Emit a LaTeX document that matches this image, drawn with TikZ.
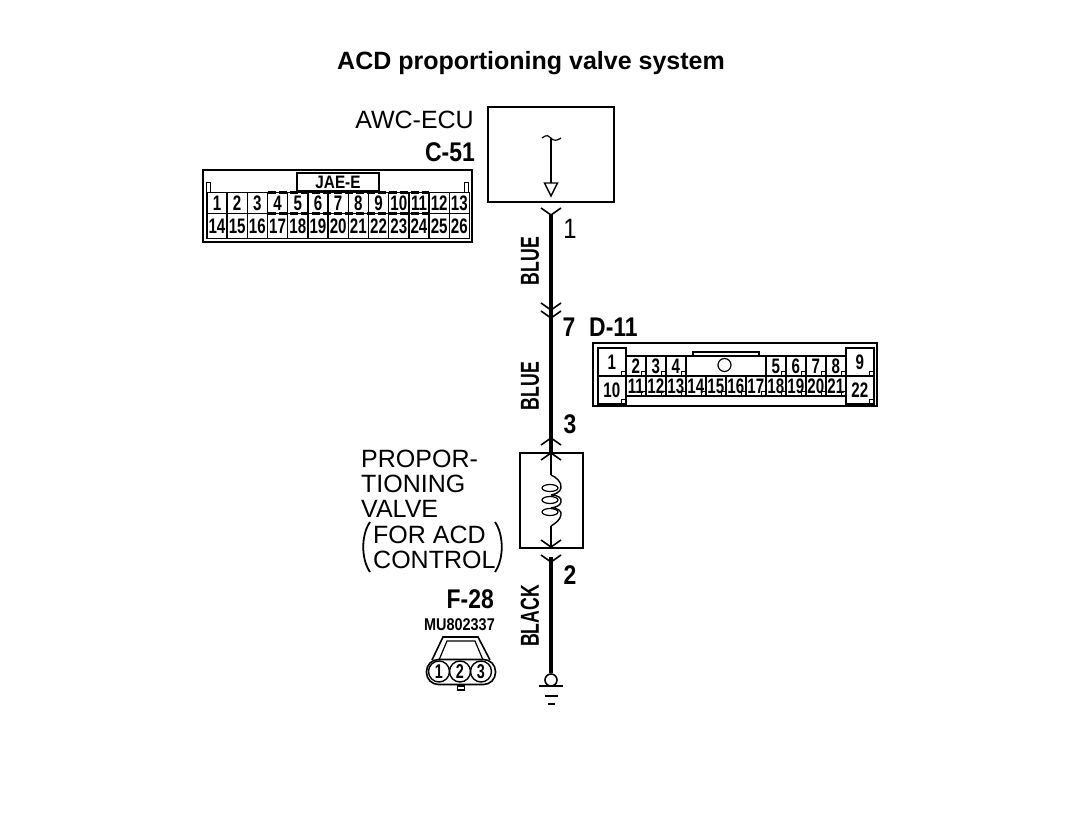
\documentclass[tikz,border=0pt]{standalone}
\usepackage{fontspec}
\setmainfont{Liberation Sans}
\newfontfamily\narrowfont[FakeStretch=0.68]{Liberation Sans}
\newfontfamily\namefont[FakeStretch=0.85]{Liberation Sans}
\newfontfamily\cellfont[FakeStretch=0.72]{Liberation Sans}
\usetikzlibrary{calc, matrix, positioning, shapes.geometric}
\tikzset{
  % wire styles
  wire/.style={
    line width=4pt
  },
  thinwire/.style={
    line width=1.6pt
  },
}
\tikzset{
  % plain labels
  plainlabel/.style={
    inner sep=0pt
    , font=\fontsize{25}{25}\selectfont
  },
  % narrow bold labels
  narrowlabel/.style={
    inner sep=0pt
    , font=\narrowfont\bfseries\fontsize{26}{26}\selectfont
  },
  % connector names and pin numbers
  namelabel/.style={
    inner sep=0pt
    , font=\namefont\bfseries\fontsize{27}{27}\selectfont
  },
}
\tikzset{
  % connector pin cell
  pincell/.style={
    draw
    , anchor=center
    , line width=1.4pt
    , inner sep=0pt
    , outer sep=0pt
    , minimum width=20.2pt
    , minimum height=23pt
    , font=\cellfont\bfseries\fontsize{21}{21}\selectfont
  },
  % pin cell with small square in its corner
  tabcell/.style={
    pincell
    , minimum width=20pt
    , minimum height=20pt
    , path picture={
        \draw[line width=1pt] ($(path picture bounding box.south east)+(-4,0)$) rectangle ++(4,-4);
      }
  },
  blankcell/.style={
    draw=none
    , minimum width=20pt
    , minimum height=20pt
    , path picture={}
  },
  bigcell/.style={
    tabcell
    , minimum width=28pt
    , minimum height=28pt
  },
  framebox/.style={
    draw
    , line width=2pt
    , inner sep=0pt
    , outer sep=0pt
  },
}
\begin{document}
\begin{tikzpicture}[x=1pt, y=-1pt]
  \useasboundingbox (0,0) rectangle (1072,816);

  \node[font=\bfseries\fontsize{25}{25}\selectfont, inner sep=0pt] (title) at (531,63) {ACD proportioning valve system};

  % ECU
  \node[framebox, minimum width=126pt, minimum height=95pt] (ecu) at (551,154.5) {};
  \node[plainlabel, anchor=east] (ecuname) at (474,120) {AWC-ECU};
  \node[namelabel, anchor=east] (c51name) at (475,152) {C-51};
  \coordinate (ecutop) at (551,138);
  \coordinate (ecuhead) at (551,183);
  \draw[thinwire] (ecutop) -- (ecuhead);
  \draw[line width=1.2pt] ($(ecutop)+(-9,0)$) .. controls ($(ecutop)+(-4,-4)$) and ($(ecutop)+(-2,-2)$) .. (ecutop) .. controls ($(ecutop)+(2,3)$) and ($(ecutop)+(6,3)$) .. ($(ecutop)+(10,0)$);
  \draw[line width=1.4pt, fill=white] ($(ecuhead)+(-6.5,0)$) -- ($(ecuhead)+(6.5,0)$) -- ($(ecuhead)+(0,13)$) -- cycle;

  % connector C-51
  \node[framebox, minimum width=269pt, minimum height=72pt] (c51) at (337.5,206) {};
  \node[framebox, line width=1.6pt, minimum width=82pt, minimum height=18pt, font=\namefont\bfseries\fontsize{18}{18}\selectfont] (jae) at (338,182) {JAE-E};
  \node[draw, line width=1pt, inner sep=0pt, minimum width=4pt, minimum height=10pt] (c51tabl) at (208,187) {};
  \node[draw, line width=1pt, inner sep=0pt, minimum width=4pt, minimum height=10pt] (c51tabr) at (466,187) {};
  \matrix (c51pins) [matrix of nodes
                    , nodes={pincell}
                    , row 1/.style={nodes={minimum height=21pt}}
                    , row 2/.style={nodes={minimum height=25pt}}
                    , column sep=-1.4pt
                    , row sep=-1.4pt
                    , inner sep=0pt
                    , anchor=north west
                    , ampersand replacement=\&
                    ] at (206,191.5)
    {
      1 \& 2 \& 3 \& 4 \& 5 \& 6 \& 7 \& 8 \& 9 \& 10 \& 11 \& 12 \& 13 \\
      14 \& 15 \& 16 \& 17 \& 18 \& 19 \& 20 \& 21 \& 22 \& 23 \& 24 \& 25 \& 26 \\
    };
  \draw[line width=3pt, dash pattern=on 8pt off 3pt] (c51pins-1-4.north west) -- (c51pins-1-11.north east);
  \draw[line width=3pt, dash pattern=on 8pt off 3pt] (c51pins-2-4.north west) -- (c51pins-2-11.north east);

  % connector D-11
  \node[framebox, minimum width=284pt, minimum height=63pt] (d11) at (734.5,374.5) {};
  \matrix (d11pins) [matrix of nodes
                    , nodes={tabcell}
                    , column sep=-1.4pt
                    , row sep=-1.4pt
                    , inner sep=0pt
                    , anchor=north west
                    , ampersand replacement=\&
                    ] at (625,355)
    {
      2 \& 3 \& 4 \& |[blankcell]| {} \& |[blankcell]| {} \& |[blankcell]| {} \& |[blankcell]| {} \& 5 \& 6 \& 7 \& 8 \\
      11 \& 12 \& 13 \& 14 \& 15 \& 16 \& 17 \& 18 \& 19 \& 20 \& 21 \\
    };
  \node[bigcell, anchor=south east] (d11one) at (d11pins-1-1.south west) {1};
  \node[bigcell, anchor=north east] (d11ten) at (d11pins-2-1.north west) {10};
  \node[bigcell, anchor=south west] (d11nine) at (d11pins-1-11.south east) {9};
  \node[bigcell, anchor=north west] (d11twentytwo) at (d11pins-2-11.north east) {22};
  \draw[line width=1.4pt] (d11pins-1-4.north west) -- (d11pins-1-7.north east);
  \draw[line width=1.4pt] ($(d11pins-1-4.north west)+(7,0)$) -- ($(d11pins-1-4.north west)+(7,-4)$) -- ($(d11pins-1-7.north east)+(-7,-4)$) -- ($(d11pins-1-7.north east)+(-7,0)$);
  \node[draw, circle, line width=1.2pt, inner sep=0pt, minimum size=13pt] (d11key) at (724.5,365) {};
  \node[namelabel, anchor=west] (d11name) at (589,327) {D-11};

  % main wire with its connector marks
  \coordinate (pinone) at (551,215);
  \coordinate (pinsevenup) at (551,310);
  \coordinate (pinsevendn) at (551,318);
  \coordinate (pinthree) at (551,438);
  \coordinate (valvetop) at (551,453);
  \coordinate (valvebot) at (551,547);
  \coordinate (pintwo) at (551,562);
  \node[draw, circle, line width=1.6pt, inner sep=0pt, minimum size=12pt] (earth) at (551,680) {};
  \draw[wire] (pinone) -- (valvetop);
  \draw[wire] ($(pintwo)+(0,-5)$) -- (earth.north);
  \draw[thinwire] ($(pinone)+(-10,-7)$) -- (pinone) -- ($(pinone)+(10,-7)$);
  \draw[thinwire] ($(pinsevenup)+(-10,-7)$) -- (pinsevenup) -- ($(pinsevenup)+(10,-7)$);
  \draw[thinwire] ($(pinsevendn)+(-10,-7)$) -- (pinsevendn) -- ($(pinsevendn)+(10,-7)$);
  \draw[thinwire] ($(pinthree)+(-10,7)$) -- (pinthree) -- ($(pinthree)+(10,7)$);
  \draw[thinwire] ($(valvetop)+(-10,7)$) -- (valvetop) -- ($(valvetop)+(10,7)$);
  \draw[thinwire] ($(valvebot)+(-10,-7)$) -- (valvebot) -- ($(valvebot)+(10,-7)$);
  \draw[thinwire] ($(pintwo)+(-10,-7)$) -- (pintwo) -- ($(pintwo)+(10,-7)$);

  % valve
  \node[framebox, minimum width=63pt, minimum height=95pt] (valve) at (551.5,500.5) {};
  \coordinate (coiltop) at (551,475);
  \coordinate (coilbot) at (551,526);
  \draw[thinwire] (valvetop) -- (coiltop);
  \draw[thinwire] (coilbot) -- (valvebot);
  \draw[line width=1.4pt] (coiltop) .. controls (556,477) and (562,482) .. (561,488) .. controls (560,492) and (556,494) .. (551,495)
    (551,495) .. controls (558,495) and (562,498) .. (561,502) .. controls (560,506) and (556,507) .. (551,508)
    (551,508) .. controls (558,508) and (562,511) .. (561,515) .. controls (560,520) and (556,523) .. (coilbot);
  \node[draw, ellipse, line width=1.2pt, inner sep=0pt, minimum width=16pt, minimum height=7pt] (coilone) at (550,488) {};
  \node[draw, ellipse, line width=1.2pt, inner sep=0pt, minimum width=16pt, minimum height=7pt] (coiltwo) at (550,500) {};
  \node[draw, ellipse, line width=1.2pt, inner sep=0pt, minimum width=16pt, minimum height=7pt] (coilthree) at (550,512) {};

  \node[plainlabel, anchor=west] (vline1) at (361,459) {PROPOR-};
  \node[plainlabel, anchor=west] (vline2) at (361,484) {TIONING};
  \node[plainlabel, anchor=west] (vline3) at (361,509) {VALVE};
  \node[plainlabel, anchor=west] (vline4) at (373,535) {FOR ACD};
  \node[plainlabel, anchor=west] (vline5) at (373,560) {CONTROL};
  \draw[line width=1.8pt] (370,522) .. controls (361,535) and (361,559) .. (370,572);
  \draw[line width=1.8pt] (495,522) .. controls (504,535) and (504,559) .. (495,572);

  % earth
  \coordinate (earthbar) at (551,686);
  \draw[line width=1.6pt] ($(earthbar)+(-12,0)$) -- ($(earthbar)+(12,0)$);
  \draw[line width=1.6pt] ($(earthbar)+(-6,10)$) -- ($(earthbar)+(7,10)$);
  \draw[line width=1.6pt] ($(earthbar)+(-3,18)$) -- ($(earthbar)+(4,18)$);

  % wire labels
  \node[narrowlabel, rotate=90] (blueone) at (530,261) {BLUE};
  \node[narrowlabel, rotate=90] (bluetwo) at (530,386) {BLUE};
  \node[narrowlabel, rotate=90] (black) at (530,616) {BLACK};
  \node[plainlabel, font=\namefont\fontsize{28}{28}\selectfont] (numone) at (570,229) {1};
  \node[namelabel] (numseven) at (569,327) {7};
  \node[namelabel] (numthree) at (570,424) {3};
  \node[namelabel] (numtwo) at (570,575) {2};

  % connector F-28
  \node[namelabel, anchor=east] (f28name) at (494,599) {F-28};
  \node[anchor=east, inner sep=0pt, font=\namefont\bfseries\fontsize{17}{17}\selectfont] (f28code) at (495,625) {MU802337};
  \draw[line width=1.6pt] (432,660) -- (443,637) -- (478,637) -- (490,660);
  \draw[line width=1.2pt] (439,660) -- (447,641) -- (475,641) -- (483,660);
  \node[draw, rectangle, rounded corners=12pt, line width=1.6pt, fill=white, inner sep=0pt, minimum width=69pt, minimum height=25pt] (f28) at (461,672) {};
  \node[draw, circle, line width=1.4pt, inner sep=0pt, minimum size=21pt, font=\cellfont\bfseries\fontsize{20}{20}\selectfont] (f28one) at (439,671.5) {1};
  \node[draw, circle, line width=1.4pt, inner sep=0pt, minimum size=21pt, font=\cellfont\bfseries\fontsize{20}{20}\selectfont] (f28two) at (460,671.5) {2};
  \node[draw, circle, line width=1.4pt, inner sep=0pt, minimum size=21pt, font=\cellfont\bfseries\fontsize{20}{20}\selectfont] (f28three) at (481,671.5) {3};
  \node[draw, line width=1.2pt, inner sep=0pt, minimum width=7pt, minimum height=4pt, anchor=north] (f28tab) at (f28.south) {};
\end{tikzpicture}
\end{document}
